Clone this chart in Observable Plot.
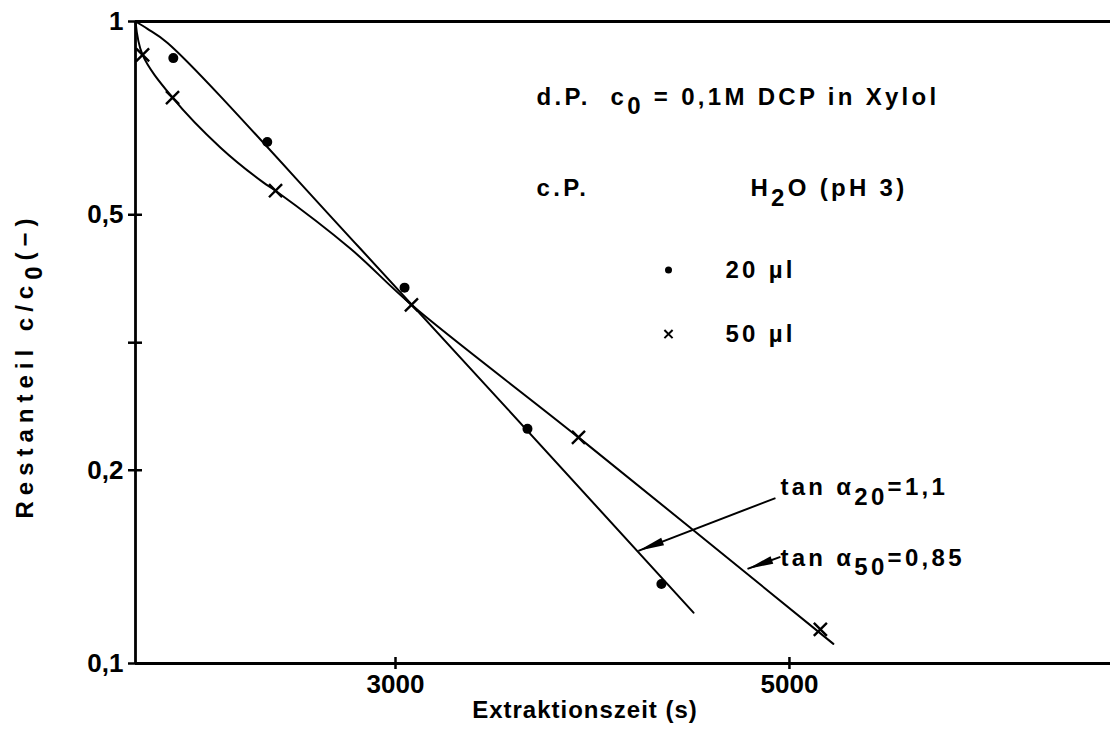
<!DOCTYPE html>
<html><head><meta charset="utf-8">
<script src="https://cdn.jsdelivr.net/npm/d3@7"></script>
<script src="https://cdn.jsdelivr.net/npm/@observablehq/plot@0.6"></script>
<style>
html,body{margin:0;padding:0;background:#fff;}
svg text{white-space:pre;}
</style></head><body><div id="chart"></div>
<script>
// ---- data ----
const xDots = [1872, 2349, 3046, 3670, 4350];          // 20 µl measured points
const yDots = [0.877, 0.649, 0.385, 0.232, 0.133];
const xCross = [1716, 1868, 2391, 3081, 3929, 5157];   // 50 µl measured points
const yCross = [0.887, 0.761, 0.545, 0.362, 0.225, 0.113];
const xCurve20 = [1680, 1741, 1843, 2822, 4513];      // drawn curve 20 µl
const yCurve20 = [1, 0.974, 0.926, 0.4426, 0.12];
const xCurve50 = [1680, 1716, 1868, 2112, 2330, 2391, 2772, 3081, 3929, 5223]; // drawn curve 50 µl
const yCurve50 = [1, 0.887, 0.761, 0.636, 0.561, 0.545, 0.4426, 0.362, 0.225, 0.1073];
const xTicks = [3000, 5000];
const xTickLabels = ["3000", "5000"];
const yTicks = [0.1, 0.2, 0.316, 0.5, 1];
const yTickLabels = ["0,1", "0,2", "", "0,5", "1"];
const xDomain = [1680, 6630];
const yDomain = [0.1, 1];
const xLabel = "Extraktionszeit (s)";
const yLabel = "Restanteil c/c_{0}(−)";
const noteText = ["d.P.  c_{0} = 0,1M DCP in Xylol", "c.P.", "H_{2}O (pH 3)", "20 µl", "50 µl", "tan α_{20}=1,1", "tan α_{50}=0,85"];
const noteX = [3716, 3716, 4802, 4675, 4675, 4954, 4954];
const noteY = [0.761, 0.549, 0.549, 0.410, 0.326, 0.1878, 0.146];
const legendX = [4386, 4386];
const legendY = [0.410, 0.326];
const legendSym = ["circle", "times"];
const arrowX1 = [4929, 4954];
const arrowY1 = [0.181, 0.1466];
const arrowX2 = [4233, 4787];
const arrowY2 = [0.1498, 0.1404];

// ---- layout ----
const W = 1110, H = 733, mL = 135, mR = 0, mT = 21, mB = 70;
const sx = Plot.scale({x: {domain: xDomain, range: [mL, W - mR]}});
const sy = Plot.scale({y: {type: "log", domain: yDomain, range: [H - mB, mT]}});

function headSymbol(i, L, w) {
  const dx = sx.apply(arrowX2[i]) - sx.apply(arrowX1[i]);
  const dy = sy.apply(arrowY2[i]) - sy.apply(arrowY1[i]);
  const a = Math.atan2(dy, dx), c = Math.cos(a), s = Math.sin(a);
  return {draw(ctx) {
    ctx.moveTo(0, 0);
    ctx.lineTo(-L * c - w * s, -L * s + w * c);
    ctx.lineTo(-L * c + w * s, -L * s - w * c);
    ctx.closePath();
  }};
}

const curve20 = xCurve20.map((x, i) => ({x, y: yCurve20[i]}));
const curve50 = xCurve50.map((x, i) => ({x, y: yCurve50[i]}));
const dots = xDots.map((x, i) => ({x, y: yDots[i]}));
const crosses = xCross.map((x, i) => ({x, y: yCross[i]}));
const notes = noteText.map((t, i) => ({t, x: noteX[i], y: noteY[i]}));
const legend = legendSym.map((s, i) => ({s, x: legendX[i], y: legendY[i]}));
const arrows = arrowX1.map((x1, i) => ({i, x1, y1: arrowY1[i], x2: arrowX2[i], y2: arrowY2[i]}));

const plot = Plot.plot({
  width: W, height: H,
  marginLeft: mL, marginRight: mR, marginTop: mT, marginBottom: mB,
  style: {fontFamily: "'Liberation Sans', Arial, Helvetica, sans-serif", fontWeight: "bold", fontSize: "26px", background: "white", color: "black", overflow: "visible"},
  x: {domain: xDomain},
  y: {type: "log", domain: yDomain},
  marks: [
    Plot.ruleY([yDomain[1]], {strokeWidth: 2.8}),
    Plot.ruleY([yDomain[0]], {strokeWidth: 2.8}),
    Plot.ruleX([xDomain[0]], {strokeWidth: 2.8}),
    Plot.axisX({ticks: xTicks, tickFormat: d => xTickLabels[xTicks.indexOf(d)], tickSize: 12, dy: -6, tickPadding: 5, strokeWidth: 2.5, label: null}),
    Plot.axisY({ticks: yTicks, tickFormat: d => yTickLabels[yTicks.indexOf(d)], tickSize: 14, dx: 7, tickPadding: 5, strokeWidth: 2.5, label: null}),
    Plot.line(curve20, {x: "x", y: "y", curve: "catmull-rom", strokeWidth: 2}),
    Plot.line(curve50, {x: "x", y: "y", curve: "catmull-rom", strokeWidth: 2}),
    Plot.dot(dots, {x: "x", y: "y", r: 5, fill: "black"}),
    Plot.dot(crosses, {x: "x", y: "y", r: 6, symbol: "times", stroke: "black", strokeWidth: 2.4}),
    Plot.dot(legend.filter(d => d.s === "circle"), {x: "x", y: "y", r: 3.5, fill: "black"}),
    Plot.dot(legend.filter(d => d.s === "times"), {x: "x", y: "y", r: 3.8, symbol: "times", stroke: "black", strokeWidth: 2}),
    Plot.text(notes, {x: "x", y: "y", text: "t", textAnchor: "start", fontSize: 24}),
    Plot.link(arrows, {x1: "x1", y1: "y1", x2: "x2", y2: "y2", strokeWidth: 2}),
    Plot.dot(arrows.filter(d => d.i === 0), {x: "x2", y: "y2", symbol: headSymbol(0, 26, 4), fill: "black", stroke: "none"}),
    Plot.dot(arrows.filter(d => d.i === 1), {x: "x2", y: "y2", symbol: headSymbol(1, 26, 4), fill: "black", stroke: "none"}),
    Plot.text([xLabel], {frameAnchor: "bottom", textAnchor: "middle", dx: -38, dy: 54, fontSize: 24}),
    Plot.text([yLabel], {frameAnchor: "left", textAnchor: "middle", rotate: -90, dx: -110, dy: 23, fontSize: 24})
  ]
});

// subscripts + letter spacing
const ns = "http://www.w3.org/2000/svg";
plot.querySelectorAll("text").forEach(t => {
  const tsp = t.querySelectorAll("tspan");
  const nodes = tsp.length ? [...tsp] : [t];
  nodes.forEach(n => {
    const s = n.textContent;
    if (s === xLabel) t.style.letterSpacing = "1px";
    if (s === yLabel) t.style.letterSpacing = "6px";
    if (noteText.includes(s)) t.style.letterSpacing = "3.3px";
    if (!s.includes("_{")) return;
    const parts = s.split(/_\{([^}]*)\}/);
    n.textContent = "";
    let shifted = false;
    parts.forEach((p, i) => {
      if (!p) return;
      const isSub = i % 2 === 1;
      const e = document.createElementNS(ns, "tspan");
      e.textContent = p;
      if (isSub && !shifted) { e.setAttribute("dy", "0.38em"); shifted = true; }
      else if (!isSub && shifted) { e.setAttribute("dy", "-0.38em"); shifted = false; }
      n.appendChild(e);
    });
  });
});
document.getElementById("chart").appendChild(plot);
</script>
</body></html>
